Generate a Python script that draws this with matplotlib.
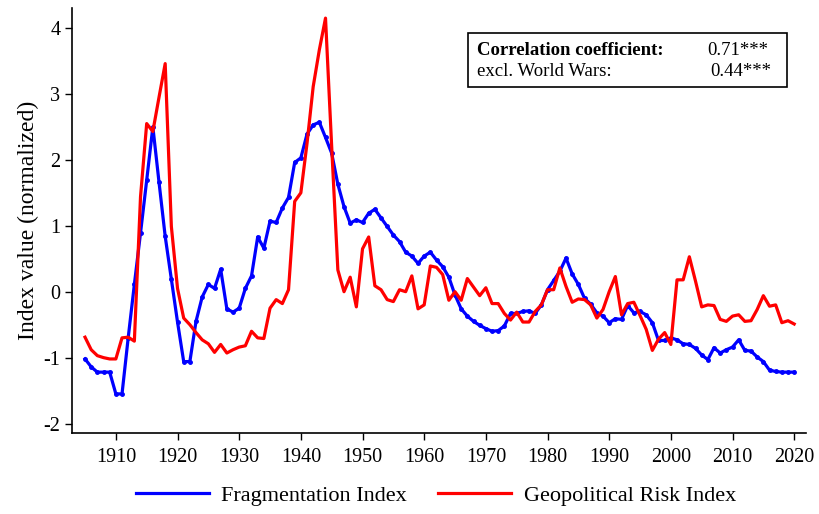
import numpy as np
import matplotlib

matplotlib.use("Agg")
import matplotlib.pyplot as plt
from matplotlib.patches import Rectangle
from matplotlib.lines import Line2D

plt.rcParams["font.family"] = ["Liberation Serif", "DejaVu Serif"]

# --------------------------------------------------------------------------
# Datos
# --------------------------------------------------------------------------
anios = np.arange(1905, 2021)

fragmentacion = [
    -1.02, -1.14, -1.22, -1.22, -1.22, -1.55, -1.55, -0.70, 0.11, 0.89,
    1.69, 2.50, 1.66, 0.84, 0.19, -0.46, -1.06, -1.06, -0.45, -0.08,
    0.11, 0.05, 0.34, -0.26, -0.31, -0.25, 0.05, 0.24, 0.83, 0.66,
    1.07, 1.05, 1.27, 1.43, 1.96, 2.03, 2.39, 2.53, 2.57, 2.34,
    2.10, 1.63, 1.29, 1.04, 1.09, 1.05, 1.19, 1.25, 1.12, 0.99,
    0.86, 0.76, 0.60, 0.54, 0.43, 0.54, 0.60, 0.48, 0.38, 0.22,
    -0.05, -0.26, -0.37, -0.45, -0.51, -0.56, -0.60, -0.59, -0.52, -0.33,
    -0.33, -0.30, -0.29, -0.33, -0.20, 0.03, 0.17, 0.31, 0.51, 0.27,
    0.11, -0.10, -0.19, -0.32, -0.37, -0.47, -0.41, -0.42, -0.21, -0.32,
    -0.30, -0.35, -0.47, -0.74, -0.74, -0.70, -0.73, -0.79, -0.80, -0.86,
    -0.96, -1.03, -0.85, -0.93, -0.88, -0.84, -0.73, -0.89, -0.90, -0.99,
    -1.06, -1.19, -1.21, -1.22, -1.22, -1.22,
]

riesgo_geo = [
    -0.69, -0.88, -0.97, -1.00, -1.02, -1.02, -0.70, -0.69, -0.75, 1.44,
    2.55, 2.43, 2.95, 3.46, 0.99, 0.05, -0.40, -0.50, -0.62, -0.73,
    -0.79, -0.92, -0.80, -0.93, -0.88, -0.84, -0.82, -0.60, -0.70, -0.71,
    -0.25, -0.12, -0.18, 0.03, 1.37, 1.50, 2.25, 3.11, 3.67, 4.15,
    2.20, 0.33, 0.00, 0.22, -0.23, 0.65, 0.83, 0.09, 0.03, -0.12,
    -0.15, 0.03, 0.00, 0.24, -0.26, -0.20, 0.39, 0.37, 0.26, -0.13,
    0.00, -0.13, 0.20, 0.07, -0.06, 0.06, -0.18, -0.18, -0.33, -0.43,
    -0.31, -0.46, -0.46, -0.30, -0.20, 0.03, 0.03, 0.36, 0.08, -0.16,
    -0.11, -0.12, -0.20, -0.40, -0.27, 0.00, 0.23, -0.35, -0.18, -0.16,
    -0.36, -0.57, -0.89, -0.72, -0.62, -0.80, 0.18, 0.18, 0.53, 0.16,
    -0.23, -0.20, -0.21, -0.42, -0.45, -0.37, -0.35, -0.45, -0.44, -0.27,
    -0.06, -0.22, -0.20, -0.47, -0.44, -0.49,
]

ticks_x = np.arange(1910, 2021, 10)
ticks_y = np.arange(-2, 5, 1)

AZUL = "#0000ff"
ROJO = "#ff0000"

# --------------------------------------------------------------------------
# Figura
# --------------------------------------------------------------------------
fig = plt.figure(figsize=(8.19, 5.14), dpi=100)
ax = fig.add_axes([0.088, 0.158, 0.896, 0.826])

ax.plot(anios, fragmentacion, color=AZUL, linewidth=2.3,
        marker="o", markersize=2.5)
ax.plot(anios, riesgo_geo, color=ROJO, linewidth=2.3)

ax.set_xlim(1902.9, 2021.9)
ax.set_ylim(-2.14, 4.30)
ax.set_xticks(ticks_x)
ax.set_yticks(ticks_y)
ax.set_yticklabels([f"{v:d}" for v in ticks_y])
ax.tick_params(axis="both", direction="out", length=5, width=1,
               labelsize=14.5, colors="black")
ax.tick_params(axis="x", pad=6)
for lado in ("top", "right"):
    ax.spines[lado].set_visible(False)
for lado in ("left", "bottom"):
    ax.spines[lado].set_linewidth(1.2)
ax.set_ylabel("Index value (normalized)", fontsize=17, labelpad=3)

# Cuadro con la correlacion
ax.add_patch(Rectangle((0.5395, 0.814), 0.4345, 0.127, transform=ax.transAxes,
                       fill=False, edgecolor="black", linewidth=1.2))
ax.text(0.552, 0.901, "Correlation coefficient:", transform=ax.transAxes,
        fontsize=13.5, fontweight="bold", va="center", ha="left")
ax.text(0.949, 0.901, "0.71***", transform=ax.transAxes,
        fontsize=13.5, va="center", ha="right")
ax.text(0.552, 0.852, "excl. World Wars:", transform=ax.transAxes,
        fontsize=13.5, va="center", ha="left")
ax.text(0.953, 0.852, "0.44***", transform=ax.transAxes,
        fontsize=13.5, va="center", ha="right")

# Leyenda inferior (lineas sin marcadores)
manijas = [Line2D([], [], color=AZUL, linewidth=2.3),
           Line2D([], [], color=ROJO, linewidth=2.3)]
fig.legend(manijas, ["Fragmentation Index", "Geopolitical Risk Index"],
           loc="center", bbox_to_anchor=(0.532, 0.036), ncol=2,
           frameon=False, fontsize=16, handlelength=3.3,
           columnspacing=1.4, handletextpad=0.55)

fig.savefig("out.png", dpi=100)
